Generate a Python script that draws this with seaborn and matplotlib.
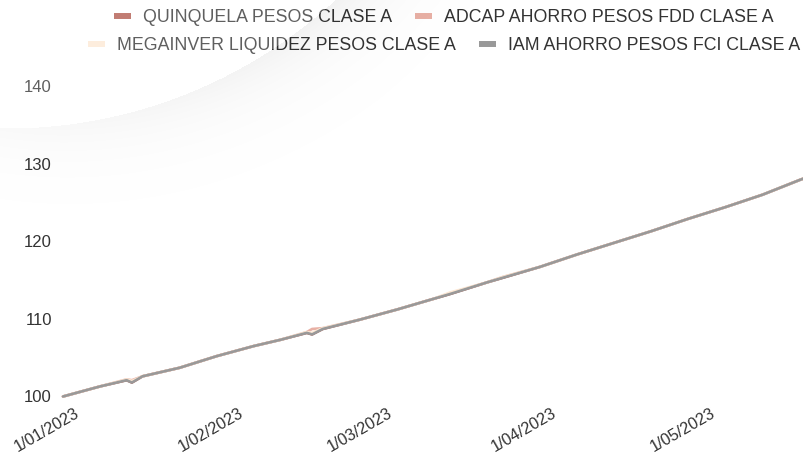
import numpy as np
import pandas as pd
import matplotlib
matplotlib.use("Agg")
import matplotlib.pyplot as plt
import matplotlib.transforms as mtrans
from matplotlib.lines import Line2D
import seaborn as sns

# ---------------- data ----------------
dates = ["2023-01-01", "2023-01-08", "2023-01-13", "2023-01-14", "2023-01-16",
         "2023-01-23", "2023-01-30", "2023-02-06", "2023-02-11", "2023-02-16",
         "2023-02-17", "2023-02-19", "2023-02-26", "2023-03-05", "2023-03-12",
         "2023-03-15", "2023-03-22", "2023-03-25", "2023-04-01", "2023-04-08",
         "2023-04-15", "2023-04-22", "2023-04-29", "2023-05-06", "2023-05-13",
         "2023-05-20", "2023-05-22"]

quinquela = [100.0, 101.3, 102.1, 101.8, 102.6, 103.7, 105.2, 106.5, 107.3, 108.2,
             108.0, 108.7, 109.9, 111.2, 112.6, 113.2, 114.7, 115.3, 116.7, 118.3,
             119.8, 121.3, 122.9, 124.4, 126.0, 127.9, 128.4]
adcap = [100.0, 101.3, 102.2, 102.1, 102.6, 103.7, 105.2, 106.5, 107.3, 108.3,
         108.7, 108.8, 109.9, 111.2, 112.6, 113.3, 114.7, 115.4, 116.7, 118.3,
         119.8, 121.3, 122.9, 124.4, 126.0, 127.9, 128.4]
megainver = [100.0, 101.3, 102.2, 102.0, 102.6, 103.7, 105.2, 106.5, 107.3, 108.3,
             108.2, 108.8, 109.9, 111.2, 112.6, 113.4, 114.7, 115.4, 116.7, 118.3,
             119.8, 121.3, 122.9, 124.4, 126.0, 127.9, 128.4]
iam = [100.0, 101.3, 102.1, 101.8, 102.6, 103.7, 105.2, 106.5, 107.3, 108.2,
       108.0, 108.7, 109.9, 111.2, 112.6, 113.2, 114.7, 115.3, 116.7, 118.3,
       119.8, 121.3, 122.9, 124.4, 126.0, 127.9, 128.4]

series_names = ["QUINQUELA PESOS CLASE A", "ADCAP AHORRO PESOS FDD CLASE A",
                "MEGAINVER LIQUIDEZ PESOS CLASE A", "IAM AHORRO PESOS FCI CLASE A"]
series_values = [quinquela, adcap, megainver, iam]
series_colors = ["#b0584c", "#e8b0a5", "#fde8d4", "#999999"]

y_ticks = [100, 110, 120, 130, 140]
x_tick_dates = ["2023-01-01", "2023-02-01", "2023-03-01", "2023-04-01", "2023-05-01"]

# ---------------- style ----------------
sns.set_theme(style="white")
plt.rcParams["font.family"] = ["Liberation Sans", "DejaVu Sans"]

W, H = 804, 457
fig = plt.figure(figsize=(W / 100, H / 100), dpi=100)
fig.patch.set_facecolor("white")

ax_left = 63 / W
ax_bottom = 1 - 396.5 / H
ax_top = 1 - 86 / H
ax = fig.add_axes([ax_left, ax_bottom, 1.0 - ax_left, ax_top - ax_bottom])
ax.set_facecolor("none")

frames = []
for name, vals in zip(series_names, series_values):
    frames.append(pd.DataFrame({"date": pd.to_datetime(dates), "value": vals, "fund": name}))
df = pd.concat(frames, ignore_index=True)

sns.lineplot(data=df, x="date", y="value", hue="fund", hue_order=series_names,
             palette=dict(zip(series_names, series_colors)), linewidth=1.9,
             legend=False, ax=ax, estimator=None)
for ln in ax.get_lines():
    ln.set_clip_on(False)
    ln.set_solid_capstyle("round")
    ln.set_solid_joinstyle("round")

x0 = pd.Timestamp("2023-01-01")
ax.set_xlim(x0, x0 + pd.Timedelta(days=139.8))
ax.set_ylim(100, 140)
ax.set_yticks(y_ticks)
ax.set_yticklabels([str(v) for v in y_ticks])
xt = pd.to_datetime(x_tick_dates)
ax.set_xticks(xt)
ax.set_xticklabels([f"{d.day}/{d.month:02d}/{d.year}" for d in xt])
ax.set_xlabel("")
ax.set_ylabel("")
sns.despine(ax=ax, left=True, bottom=True)
ax.grid(False)
ax.tick_params(axis="both", length=0, labelsize=12, labelcolor="#333333")
ax.tick_params(axis="y", pad=8)
ax.tick_params(axis="x", pad=6.5)
offset = mtrans.ScaledTranslation(-16 / 100, 0, fig.dpi_scale_trans)
for lab in ax.get_xticklabels():
    lab.set_rotation(30)
    lab.set_ha("center")
    lab.set_va("top")
    lab.set_fontsize(11.7)
    lab.set_transform(lab.get_transform() + offset)

# ---------------- legend (two centred rows) ----------------
fs = 12.75
def make_handles(idx):
    return [Line2D([0], [0], color=series_colors[i], lw=4.3, solid_capstyle="butt") for i in idx]

rows = [([0, 1], 18), ([2, 3], 46)]
for idx, yy in rows:
    leg = fig.legend(make_handles(idx), [series_names[i] for i in idx],
                     loc="center", bbox_to_anchor=(444 / W, 1 - yy / H),
                     ncol=2, frameon=False, fontsize=fs, handlelength=0.96,
                     handletextpad=0.68, columnspacing=1.3, borderpad=0,
                     borderaxespad=0)
    for t in leg.get_texts():
        t.set_color("#333333")

# ---------------- decorative swoosh overlay ----------------
yy, xx = np.mgrid[0:H, 0:W].astype(float)
cx, cy, r = 7.0, -355.0, 483.0
dist = np.sqrt((xx - cx) ** 2 + (yy - cy) ** 2) - r
img = np.zeros((H, W, 4))
inside = dist < 0
img[inside, :3] = 1.0
img[inside, 3] = 0.22
outside = ~inside
strength = 0.025 + 0.035 * np.clip(xx / 380.0, 0, 1)
alpha_sh = strength * np.exp(-np.clip(dist, 0, None) / 38.0)
img[outside, :3] = 0.0
img[outside, 3] = alpha_sh[outside]
ov = fig.add_axes([0, 0, 1, 1], zorder=10)
ov.imshow(img, extent=(0, W, H, 0), aspect="auto", interpolation="bilinear")
ov.set_xlim(0, W)
ov.set_ylim(H, 0)
ov.axis("off")

fig.savefig("out.png", dpi=100)
